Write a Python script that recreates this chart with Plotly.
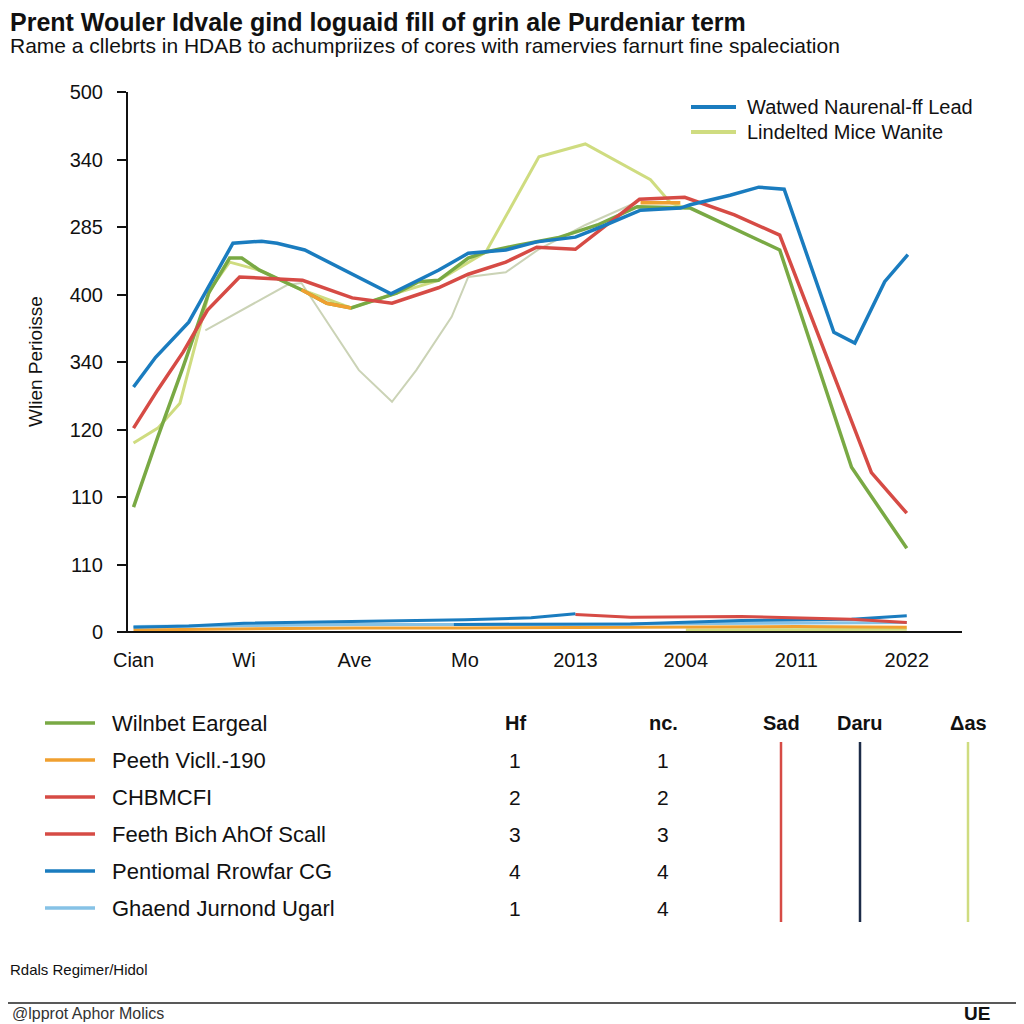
import plotly.graph_objects as go

# ---------------- data ----------------
x_tick_labels = ["Cian", "Wi", "Ave", "Mo", "2013", "2004", "2011", "2022"]
y_tick_labels = ["0", "110", "110", "120", "340", "400", "285", "340", "500"]

blue_x = [0, 0.2, 0.5, 0.9, 1.16, 1.3, 1.55, 1.95, 2.33, 2.76, 3.03, 3.37, 3.65, 4.0, 4.23, 4.59, 4.95, 5.04, 5.4, 5.66, 5.89, 6.34, 6.53, 6.8, 7.01]
blue_y = [3.63, 4.07, 4.59, 5.76, 5.79, 5.76, 5.66, 5.32, 5.01, 5.36, 5.61, 5.66, 5.78, 5.85, 6.0, 6.25, 6.28, 6.33, 6.47, 6.59, 6.56, 4.44, 4.28, 5.19, 5.59]

red_x = [0, 0.22, 0.45, 0.67, 0.96, 1.25, 1.53, 1.98, 2.34, 2.76, 3.03, 3.37, 3.65, 4.0, 4.23, 4.58, 4.99, 5.44, 5.85, 6.68, 7.0]
red_y = [3.02, 3.59, 4.15, 4.77, 5.26, 5.24, 5.21, 4.95, 4.87, 5.10, 5.30, 5.48, 5.70, 5.67, 5.96, 6.41, 6.44, 6.18, 5.88, 2.36, 1.76]

green_x = [0, 0.22, 0.45, 0.68, 0.87, 0.98, 1.14, 1.52, 1.75, 1.97, 2.38, 2.58, 2.76, 3.03, 3.19, 3.48, 3.84, 4.2, 4.56, 5.04, 5.85, 6.5, 7.0]
green_y = [1.85, 2.89, 3.93, 5.02, 5.54, 5.54, 5.36, 5.07, 4.87, 4.80, 5.02, 5.19, 5.21, 5.54, 5.63, 5.73, 5.84, 6.03, 6.30, 6.28, 5.66, 2.44, 1.24]

orange_x = [1.52, 1.75, 1.97, None, 4.59, 4.95]
orange_y = [5.07, 4.87, 4.80, None, 6.36, 6.36]

lime_x = [0, 0.22, 0.42, 0.69, 0.87, 1.14, 1.52, 1.97, 2.38, 2.76, 3.19, 3.67, 4.09, 4.68, 4.86, 5.0]
lime_y = [2.80, 3.02, 3.39, 5.07, 5.48, 5.36, 5.07, 4.80, 5.02, 5.21, 5.63, 7.04, 7.23, 6.70, 6.36, 6.28]

sage_x = [0.65, 1.39, 1.52, 2.04, 2.34, 2.56, 2.88, 3.03, 3.37, 3.66, 4.09, 4.56]
sage_y = [4.47, 5.14, 5.17, 3.88, 3.41, 3.88, 4.67, 5.26, 5.33, 5.66, 6.03, 6.37]

low_orange_x = [0, 1, 2, 3, 4, 5, 6, 7]
low_orange_y = [0.03, 0.05, 0.06, 0.06, 0.07, 0.08, 0.08, 0.07]
low_yellow_x = [5, 6, 7]
low_yellow_y = [0.03, 0.04, 0.04]
low_lblue_x = [0, 1, 2, 3, 4, 5, 6, 7]
low_lblue_y = [0.08, 0.1, 0.11, 0.11, 0.12, 0.12, 0.13, 0.14]
low_blue_x = [0, 0.5, 1, 2, 3, 3.6, 4.0]
low_blue_y = [0.07, 0.09, 0.13, 0.16, 0.18, 0.21, 0.27]
low_blue2_x = [2.9, 4.5, 5.5, 6.5, 7.0]
low_blue2_y = [0.11, 0.12, 0.17, 0.19, 0.24]
low_red_x = [4.0, 4.5, 5.5, 6.5, 7.0]
low_red_y = [0.26, 0.22, 0.23, 0.19, 0.14]

top_legend_names = ["Watwed Naurenal-ff Lead", "Lindelted Mice Wanite"]
table_names = ["Wilnbet Eargeal", "Peeth Vicll.-190", "CHBMCFI", "Feeth Bich AhOf Scall", "Pentiomal Rrowfar CG", "Ghaend Jurnond Ugarl"]
table_hf = ["", "1", "2", "3", "4", "1"]
table_nc = ["", "1", "2", "3", "4", "4"]
table_headers = ["Hf", "nc.", "Sad", "Daru", "\u0394as"]

# ---------------- styles ----------------
C_BLUE = "#1a7cbf"
C_RED = "#d64b45"
C_GREEN = "#79a944"
C_ORANGE = "#f0a030"
C_LIME = "#cfdc80"
C_SAGE = "#cbd3b6"
C_LBLUE = "#86c2e6"
C_NAVY = "#1d2c48"
row_colors = [C_GREEN, C_ORANGE, C_RED, C_RED, C_BLUE, C_LBLUE]
top_legend_colors = [C_BLUE, C_LIME]
FONT = "Liberation Sans, Arial, sans-serif"

fig = go.Figure()

def line(x, y, color, width, name=None):
    fig.add_trace(go.Scatter(x=x, y=y, mode="lines", name=name, showlegend=False,
                             line=dict(color=color, width=width), hoverinfo="skip"))

# bottom lines
line(low_yellow_x, low_yellow_y, C_LIME, 3)
line(low_orange_x, low_orange_y, C_ORANGE, 3)
line(low_lblue_x, low_lblue_y, C_LBLUE, 3)
line(low_blue2_x, low_blue2_y, C_BLUE, 3)
line(low_red_x, low_red_y, C_RED, 3)
line(low_blue_x, low_blue_y, C_BLUE, 3)

# main lines
line(sage_x, sage_y, C_SAGE, 2)
line(lime_x, lime_y, C_LIME, 3, top_legend_names[1])
line(green_x, green_y, C_GREEN, 3.5)
line(orange_x, orange_y, C_ORANGE, 3.5)
line(red_x, red_y, C_RED, 3.5)
line(blue_x, blue_y, C_BLUE, 3.5, top_legend_names[0])

# ---------------- layout helpers (screen pixel -> paper) ----------------
OFF = 8  # page body margin
L, R, T, B = 128, 962, 92, 632
def px(x):
    return (x - L) / (R - L)
def py(y):
    return (B - y) / (B - T)

ann = []
shapes = []

def text(t, x, y, size, xanchor="left", color="#111", **kw):
    ann.append(dict(text=t, x=px(x), y=py(y), xref="paper", yref="paper", xanchor=xanchor, yanchor="middle",
                    showarrow=False, font=dict(size=size, color=color, family=FONT), **kw))

def seg(x0, y0, x1, y1, color, width):
    shapes.append(dict(type="line", xref="paper", yref="paper", x0=px(x0), x1=px(x1), y0=py(y0), y1=py(y1),
                       line=dict(color=color, width=width)))

text("<b>Prent Wouler Idvale gind loguaid fill of grin ale Purdeniar term</b>", 8, 22, 25)
text("Rame a cllebrts in HDAB to achumpriizes of cores with ramervies farnurt fine spaleciation", 8, 46, 21)

# top-right legend
for i, (nm, c) in enumerate(zip(top_legend_names, top_legend_colors)):
    yy = 107 + 25 * i
    seg(691, yy, 736, yy, c, 4)
    text(nm, 745, yy, 20)

# bottom legend table
row_y = [723, 760, 797, 834, 871, 908]
for i, name in enumerate(table_names):
    seg(45, row_y[i], 95, row_y[i], row_colors[i], 3.5)
    text(name, 110, row_y[i], 22)
    if table_hf[i]:
        text(table_hf[i], 515, row_y[i], 21, xanchor="center")
    if table_nc[i]:
        text(table_nc[i], 663, row_y[i], 21, xanchor="center")

head_x = [515, 663, 781, 860, 968]
for hx, h in zip(head_x, table_headers):
    text("<b>" + h + "</b>", hx, 723, 20, xanchor="center")
for vx, vc in zip([781, 860, 968], [C_RED, C_NAVY, C_LIME]):
    seg(vx, 742, vx, 922, vc, 2.5)

text("Rdals Regimer/Hidol", 8, 970, 15)
seg(8, 1003, 1024, 1003, "#222", 1.5)
text("@lpprot Aphor Molics", 10, 1014, 16, color="#333")
text("<b>UE</b>", 962, 1013, 19)

# y-axis title
text("Wlien Perioisse", 35, 362, 19, xanchor="center", textangle=-90)

# x-axis line
seg(120, 632, 962, 632, "#111", 2)

fig.update_layout(
    width=1024, height=1024,
    margin=dict(l=L - OFF, r=1024 - (R - OFF), t=T - OFF, b=1024 - (B - OFF)),
    paper_bgcolor="white", plot_bgcolor="white",
    font=dict(family=FONT, color="#111"),
    annotations=ann, shapes=shapes,
    showlegend=False,
    xaxis=dict(range=[-0.05, 7.5], tickvals=list(range(len(x_tick_labels))), ticktext=x_tick_labels,
               showgrid=False, zeroline=False, showline=False, ticks="", tickfont=dict(size=20, color="#111"),
               ticklabelstandoff=14),
    yaxis=dict(range=[0, 8], tickvals=list(range(len(y_tick_labels))), ticktext=y_tick_labels,
               showgrid=False, zeroline=False, showline=True, linecolor="#111", linewidth=2,
               ticks="outside", ticklen=9, tickwidth=2, tickcolor="#111", tickfont=dict(size=20, color="#111"),
               ticklabelstandoff=10),
)

fig.write_html("out.html")
